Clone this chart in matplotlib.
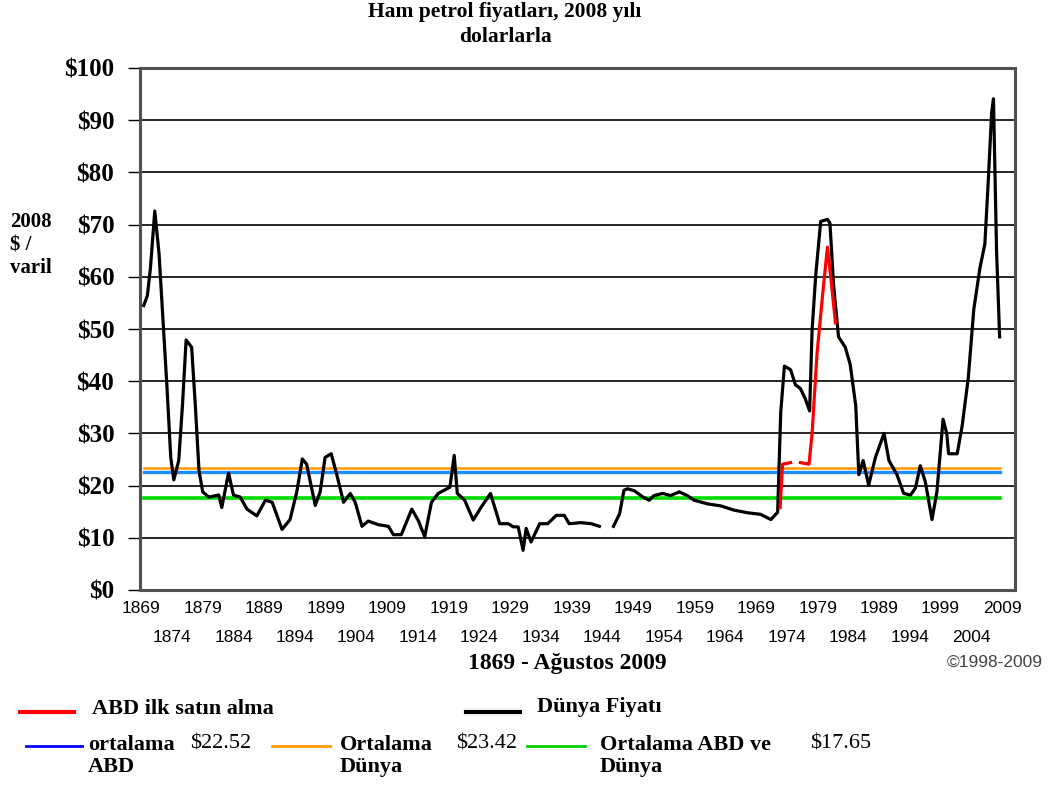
import numpy as np
import matplotlib
matplotlib.use("Agg")
import matplotlib.pyplot as plt
from matplotlib.lines import Line2D

# World price (2008 $/barrel)
world_years = [1869.4, 1870.0, 1870.5, 1871.2, 1871.9, 1872.7, 1873.2, 1873.8, 1874.3, 1875.1,
               1875.7, 1876.3, 1877.2, 1877.8, 1878.4, 1879.0, 1880.0, 1881.6, 1882.1, 1883.2,
               1884.0, 1885.1, 1886.2, 1887.8, 1889.2, 1890.3, 1891.9, 1893.2, 1894.3, 1895.2,
               1895.9, 1897.3, 1898.1, 1898.9, 1899.9, 1900.8, 1901.9, 1903.0, 1903.8, 1904.9,
               1905.9, 1907.6, 1909.2, 1910.0, 1911.3, 1913.0, 1914.1, 1915.1, 1916.2, 1917.3,
               1919.2, 1919.9, 1920.4, 1921.6, 1923.0, 1924.3, 1925.8, 1927.3, 1928.7, 1929.5,
               1930.3, 1931.1, 1931.6, 1932.4, 1933.8, 1935.1, 1936.5, 1937.8, 1938.6, 1940.5,
               1942.2, 1943.5, 1944.6, 1945.8, 1946.8, 1947.5, 1948.1, 1949.2, 1950.6, 1951.6,
               1952.4, 1953.8, 1955.1, 1956.5, 1957.8, 1958.9, 1961.1, 1963.3, 1965.4, 1967.6,
               1969.7, 1971.4, 1972.5, 1973.0, 1973.6, 1974.6, 1975.4, 1976.2, 1977.0, 1977.7,
               1978.1, 1978.7, 1979.5, 1980.6, 1981.0, 1981.6, 1982.4, 1983.5, 1984.3, 1985.2,
               1985.7, 1986.4, 1987.3, 1988.4, 1989.8, 1990.6, 1991.9, 1993.0, 1994.1, 1994.9,
               1995.7, 1996.5, 1997.1, 1997.6, 1998.4, 1999.4, 2000.0, 2000.3, 2001.7, 2002.5,
               2003.5, 2004.4, 2005.4, 2006.2, 2006.8, 2007.3, 2007.6, 2007.9, 2008.1, 2008.6]
world_price = [54.5, 56.4, 61.7, 72.6, 64.4, 48.5, 38.6, 25.4, 21.1, 24.8,
               35.3, 47.9, 46.5, 35.3, 22.8, 18.8, 17.8, 18.2, 15.8, 22.4,
               18.2, 17.8, 15.5, 14.2, 17.2, 16.8, 11.6, 13.5, 18.8, 25.1,
               24.1, 16.2, 18.8, 25.4, 26.1, 22.1, 16.8, 18.5, 16.8, 12.2,
               13.2, 12.5, 12.2, 10.6, 10.6, 15.5, 13.2, 10.2, 16.8, 18.5,
               19.7, 25.8, 18.5, 17.2, 13.4, 15.9, 18.5, 12.7, 12.7, 12.1,
               12.1, 7.6, 11.8, 9.2, 12.7, 12.7, 14.3, 14.3, 12.7, 12.9,
               12.7, 12.2, np.nan, 12.2, 14.6, 19.1, 19.4, 19.0, 17.8, 17.2,
               18.1, 18.5, 18.1, 18.8, 18.1, 17.2, 16.5, 16.1, 15.3, 14.8,
               14.5, 13.5, 14.9, 34.0, 42.9, 42.2, 39.3, 38.6, 36.6, 34.3,
               49.8, 60.4, 70.6, 71.0, 70.3, 58.4, 48.5, 46.5, 43.2, 35.3,
               22.1, 24.8, 20.1, 25.4, 30.0, 24.8, 22.1, 18.5, 18.2, 19.5,
               23.8, 20.8, 16.8, 13.5, 18.8, 32.7, 30.0, 26.1, 26.1, 31.4,
               40.6, 53.8, 61.7, 66.3, 79.5, 91.4, 94.1, 76.2, 65.0, 48.5]

# US first purchase price
us_years = [1972.9, 1973.3, 1974.6, 1975.4, 1976.2, 1977.6, 1978.1, 1978.9, 1979.8, 1980.6, 1981.1, 1981.9]
us_price = [15.8, 24.1, 24.4, np.nan, 24.4, 24.1, 30.0, 45.2, 56.4, 65.7, 60.4, 51.2]

# averages
avg_us = 22.52
avg_world = 23.42
avg_both = 17.65
avg_span = [1869.4, 2008.6]

top_row_years = list(range(1869, 2010, 10))
bottom_row_years = list(range(1874, 2005, 10))
y_ticks = list(range(0, 101, 10))

serif = "Liberation Serif"
sans = "Liberation Sans"

fig = plt.figure(figsize=(10.52, 7.91), dpi=100)
ax = fig.add_axes([140 / 1052, 1 - 590 / 791, 875 / 1052, 522 / 791])

ax.plot(avg_span, [avg_world, avg_world], color="#FF9900", lw=1.8, zorder=2)
ax.plot(avg_span, [avg_us, avg_us], color="#1E8FFF", lw=2.4, zorder=2)
ax.plot(avg_span, [avg_both, avg_both], color="#00DD00", lw=2.6, zorder=2)
ax.plot(world_years, world_price, color="black", lw=2.3, zorder=3)
ax.plot(us_years, us_price, color="#FF0000", lw=2.3, zorder=4)

ax.set_xlim(1868.8, 2011.1)
ax.set_ylim(0, 100)
ax.set_yticks(y_ticks)
ax.set_yticklabels(["$%d" % v for v in y_ticks], fontfamily=serif, fontweight="bold", fontsize=18)
ax.yaxis.grid(True, color="black", lw=1.2)
ax.set_axisbelow(True)
ax.tick_params(axis="y", length=8.5, width=1, pad=10, color="black")

ax.set_xticks(top_row_years)
ax.set_xticklabels([str(y) for y in top_row_years], fontfamily=sans, fontsize=12.5)
ax.set_xticks(bottom_row_years, minor=True)
ax.set_xticklabels([str(y) for y in bottom_row_years], minor=True, fontfamily=sans, fontsize=12.5)
ax.tick_params(axis="x", which="major", length=0, pad=8)
ax.tick_params(axis="x", which="minor", length=0, pad=29)

for side in ["left", "bottom", "top", "right"]:
    ax.spines[side].set_color("#505050")
    ax.spines[side].set_linewidth(2.2)

fig.text(505 / 1052, 1 - 2 / 791, "Ham petrol fiyatları, 2008 yılı\ndolarlarla", ha="center", va="top",
         fontfamily=serif, fontweight="bold", fontsize=15.5, linespacing=1.3)
fig.text(10 / 1052, 1 - 212 / 791, "2008\n$ /\nvaril", ha="left", va="top",
         fontfamily=serif, fontweight="bold", fontsize=15, linespacing=1.2)
fig.text(567 / 1052, 1 - 663 / 791, "1869 - Ağustos 2009", ha="center", va="center",
         fontfamily=serif, fontweight="bold", fontsize=17)
fig.text(995 / 1052, 1 - 662 / 791, "©1998-2009", ha="center", va="center",
         fontfamily=sans, fontsize=12.5, color="#444444")

# legend drawn by hand to keep the original layout
def legend_line(x0, x1, y, color, lw):
    fig.add_artist(Line2D([x0 / 1052, x1 / 1052], [1 - y / 791, 1 - y / 791], color=color, lw=lw))

def legend_text(x, y, s, bold=True):
    fig.text(x / 1052, 1 - y / 791, s, ha="left", va="top", fontfamily=serif,
             fontweight="bold" if bold else "normal", fontsize=16, linespacing=1.15)

legend_line(20, 74, 712, "#FF0000", 3)
legend_text(92, 699, "ABD ilk satın alma")
legend_line(466, 520, 712, "black", 3)
legend_text(537, 697, "Dünya Fiyatı")

legend_line(26, 82, 746, "#0000FF", 2)
legend_text(88, 735, "ortalama\nABD")
legend_text(190, 735, "$22.52", bold=False)
legend_line(272, 330, 746, "#FF9900", 2)
legend_text(340, 735, "Ortalama\nDünya")
legend_text(456, 735, "$23.42", bold=False)
legend_line(527, 585, 746, "#00CC00", 2)
legend_text(600, 735, "Ortalama ABD ve\nDünya")
legend_text(810, 735, "$17.65", bold=False)

fig.savefig("out.png", dpi=100)
